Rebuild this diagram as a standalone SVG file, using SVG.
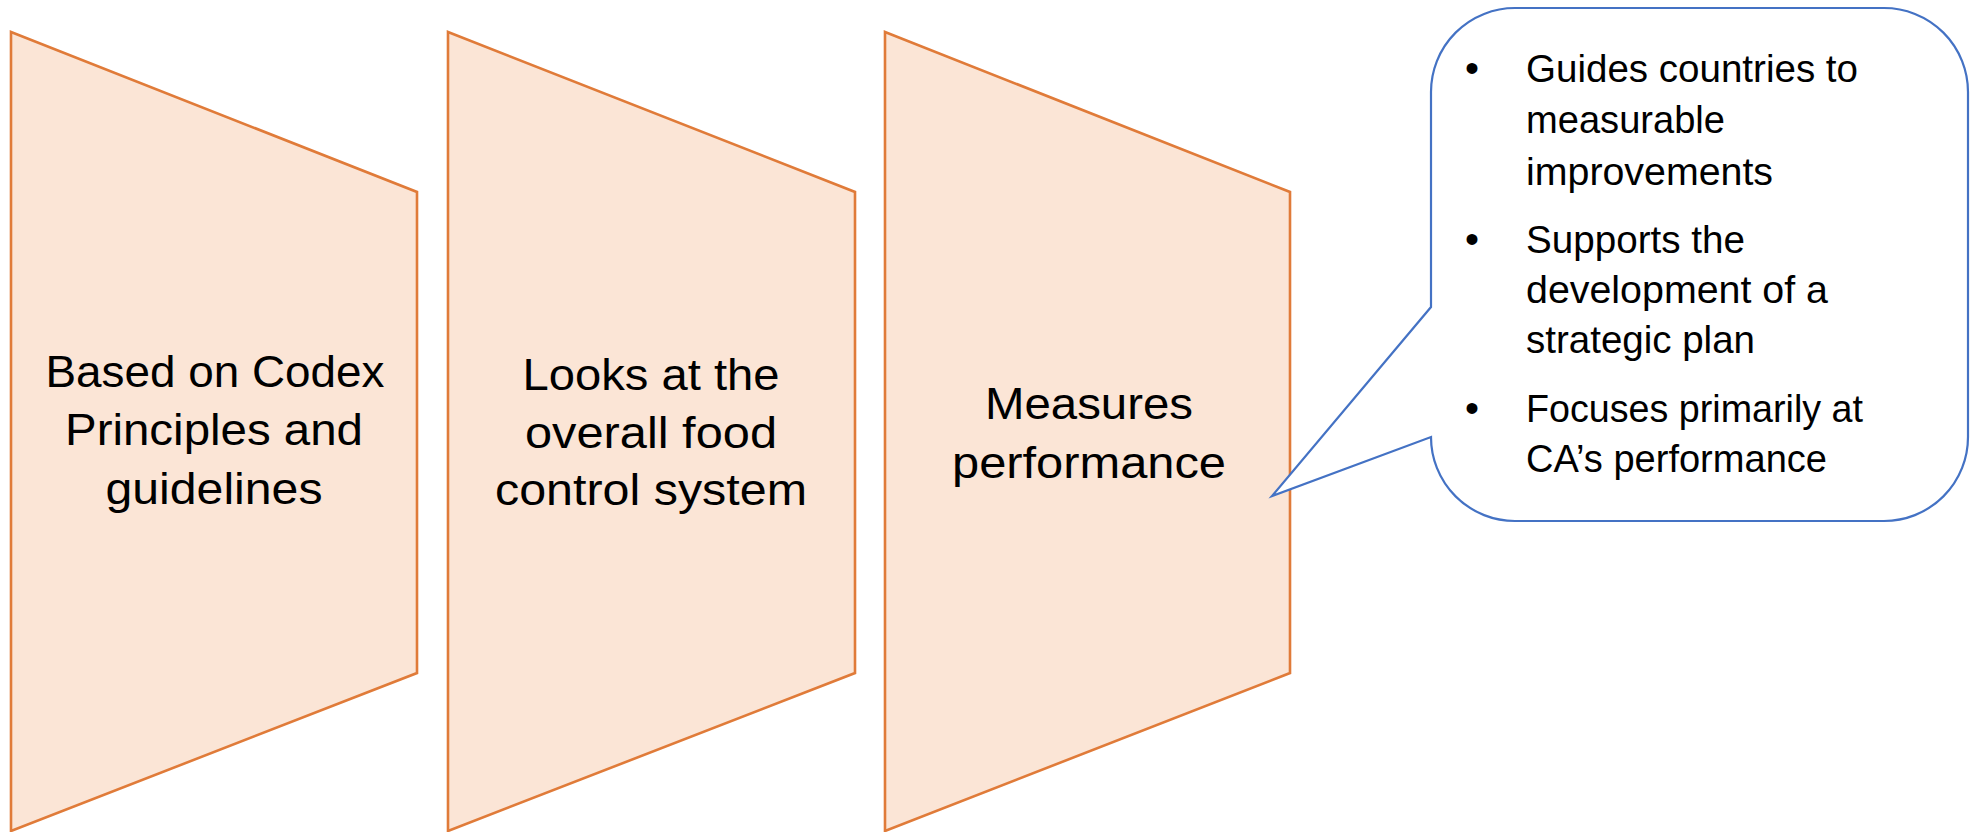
<svg xmlns="http://www.w3.org/2000/svg" width="1980" height="832" viewBox="0 0 1980 832">
<style>
.shape{fill:#FBE5D6;stroke:#E07B39;stroke-width:2.6;stroke-linejoin:miter}
.callout{fill:#FFFFFF;stroke:#4472C4;stroke-width:2.2;stroke-linejoin:miter}
.big{font-family:"Liberation Sans",Arial,sans-serif;font-size:45px;fill:#000;text-anchor:middle}
.small{font-family:"Liberation Sans",Arial,sans-serif;font-size:39px;fill:#000}
.bullet{font-family:"Liberation Sans",Arial,sans-serif;font-size:40px;fill:#000;text-anchor:middle}
</style>
<rect width="1980" height="832" fill="#FFFFFF"/>
<g id="node-codex">
<polygon class="shape" points="11,32 417,192 417,673 11,831"/>
<text class="big" x="215" y="387" textLength="339" lengthAdjust="spacingAndGlyphs">Based on Codex</text>
<text class="big" x="214" y="445" textLength="298" lengthAdjust="spacingAndGlyphs">Principles and</text>
<text class="big" x="214" y="504" textLength="217" lengthAdjust="spacingAndGlyphs">guidelines</text>
</g>
<g id="node-overall">
<polygon class="shape" points="448,32 855,192 855,673 448,831"/>
<text class="big" x="651" y="390" textLength="257" lengthAdjust="spacingAndGlyphs">Looks at the</text>
<text class="big" x="651" y="448" textLength="252" lengthAdjust="spacingAndGlyphs">overall food</text>
<text class="big" x="651" y="505" textLength="312" lengthAdjust="spacingAndGlyphs">control system</text>
</g>
<g id="node-measures">
<polygon class="shape" points="885,32 1290,192 1290,673 885,831"/>
<text class="big" x="1089" y="419" textLength="208" lengthAdjust="spacingAndGlyphs">Measures</text>
<text class="big" x="1089" y="478" textLength="274" lengthAdjust="spacingAndGlyphs">performance</text>
</g>
<g id="node-callout">
<path class="callout" d="M1515,8 H1884 A84,84 0 0 1 1968,92 V437 A84,84 0 0 1 1884,521 H1515 A84,84 0 0 1 1431,437 L1272,496 L1431,307 V92 A84,84 0 0 1 1515,8 Z"/>
<text class="bullet" x="1472" y="82">•</text>
<text class="small" x="1526" y="82" textLength="332" lengthAdjust="spacingAndGlyphs">Guides countries to</text>
<text class="small" x="1526" y="133" textLength="199" lengthAdjust="spacingAndGlyphs">measurable</text>
<text class="small" x="1526" y="185" textLength="247" lengthAdjust="spacingAndGlyphs">improvements</text>
<text class="bullet" x="1472" y="253">•</text>
<text class="small" x="1526" y="253" textLength="219" lengthAdjust="spacingAndGlyphs">Supports the</text>
<text class="small" x="1526" y="303" textLength="302" lengthAdjust="spacingAndGlyphs">development of a</text>
<text class="small" x="1526" y="353" textLength="229" lengthAdjust="spacingAndGlyphs">strategic plan</text>
<text class="bullet" x="1472" y="422">•</text>
<text class="small" x="1526" y="422" textLength="337" lengthAdjust="spacingAndGlyphs">Focuses primarily at</text>
<text class="small" x="1526" y="472" textLength="301" lengthAdjust="spacingAndGlyphs">CA’s performance</text>
</g>
<g id="connectors"></g>
</svg>
